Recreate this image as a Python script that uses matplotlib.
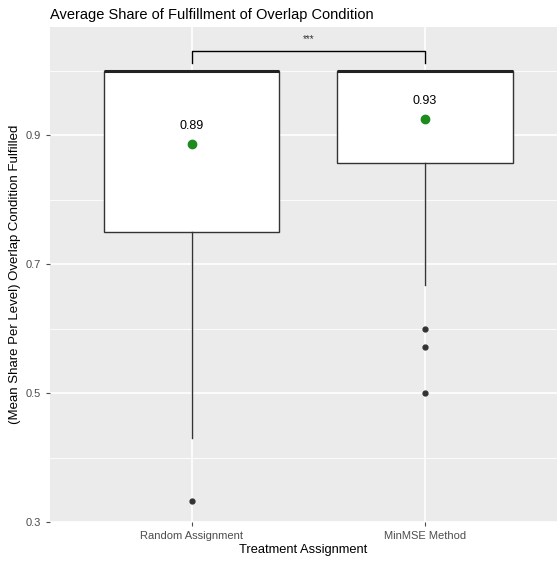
import matplotlib.pyplot as plt
import numpy as np

plt.rcParams['font.family'] = ['Liberation Sans', 'DejaVu Sans']

# data
groups = ["Random Assignment", "MinMSE Method"]
q1 = [0.75, 0.857]
medians = [1.0, 1.0]
q3 = [1.0, 1.0]
whisk_lo = [0.43, 0.667]
whisk_hi = [1.0, 1.0]
outliers = [[0.333], [0.6, 0.571, 0.5]]
means = [0.887, 0.925]
mean_labels = ["0.89", "0.93"]
signif = "***"

fig = plt.figure(figsize=(5.57, 5.61), dpi=100)
ax = fig.add_axes([50 / 557, 39 / 561, 507 / 557, 495 / 561])
ax.set_facecolor('#EBEBEB')

pos = np.arange(1, len(groups) + 1)

# grid
for y in [0.4, 0.6, 0.8, 1.0]:
    ax.axhline(y, color='white', lw=0.6, zorder=0)
for y in [0.3, 0.5, 0.7, 0.9]:
    ax.axhline(y, color='white', lw=1.2, zorder=0)
for x in pos:
    ax.axvline(x, color='white', lw=1.2, zorder=0)

stats = []
for i in range(len(groups)):
    stats.append(dict(q1=q1[i], med=medians[i], q3=q3[i],
                      whislo=whisk_lo[i], whishi=whisk_hi[i],
                      fliers=outliers[i], mean=means[i]))

ax.bxp(stats, positions=pos, widths=0.75, patch_artist=True, showcaps=False,
       boxprops=dict(facecolor='white', edgecolor='#333333', lw=1.0),
       medianprops=dict(color='#222222', lw=2.2),
       whiskerprops=dict(color='#333333', lw=1.0),
       flierprops=dict(marker='o', markerfacecolor='#333333', markeredgecolor='#333333',
                       markersize=3.5),
       zorder=2)

# mean points + labels
ax.scatter(pos, means, color='#1E8B1E', s=36, zorder=4)
for x, m, lab in zip(pos, means, mean_labels):
    ax.annotate(lab, (x, m), xytext=(0, 13), textcoords='offset points',
                ha='center', va='center', fontsize=9, color='black')

# significance bracket
ax.plot([pos[0], pos[0], pos[1], pos[1]], [1.012, 1.031, 1.031, 1.012],
        color='black', lw=1.0, zorder=3)
ax.text(pos.mean(), 1.049, signif, ha='center', va='center', fontsize=7, color='#333333')

ax.set_xlim(0.394, 2.565)
ax.set_ylim(0.3, 1.068)
ax.set_xticks(pos)
ax.set_xticklabels(groups)
ax.set_yticks([0.3, 0.5, 0.7, 0.9])
ax.set_yticklabels(['0.3', '0.5', '0.7', '0.9'])
ax.tick_params(colors='#4D4D4D', labelsize=8, length=3, width=0.8)
for lab in ax.get_xticklabels() + ax.get_yticklabels():
    lab.set_color('#4D4D4D')
for s in ax.spines.values():
    s.set_visible(False)

ax.set_xlabel('Treatment Assignment', fontsize=9.3, labelpad=2)
ax.set_ylabel('(Mean Share Per Level) Overlap Condition Fulfilled', fontsize=9.5, labelpad=3)
ax.set_title('Average Share of Fulfillment of Overlap Condition', loc='left',
             fontsize=10.5, pad=6)

fig.savefig('out.png', dpi=100)
